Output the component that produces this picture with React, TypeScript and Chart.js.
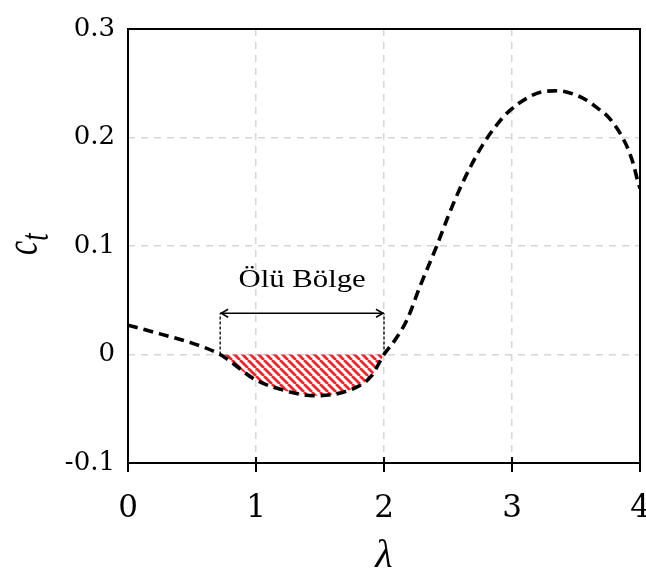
import React, { useEffect, useRef } from "react";
import { Chart, registerables } from "chart.js";

Chart.register(...registerables);

// ---- data ----
const lambdaValues = [
  0, 0.25, 0.5, 0.72, 1.0, 1.25, 1.45, 1.75, 1.9, 2.0, 2.09, 2.18, 2.28, 2.41, 2.51,
  2.6, 2.68, 2.77, 2.88, 2.98, 3.12, 3.24, 3.36, 3.48, 3.58, 3.67, 3.75, 3.82, 3.86,
  3.91, 3.95, 3.98, 4.0,
];
const ctValues = [
  0.027, 0.019, 0.0105, 0, -0.0235, -0.034, -0.038, -0.032, -0.02, 0, 0.014, 0.032,
  0.0625, 0.0994, 0.13, 0.1547, 0.174, 0.193, 0.2115, 0.2245, 0.2365, 0.2422,
  0.2431, 0.24, 0.2346, 0.2269, 0.2192, 0.2085, 0.2007, 0.1885, 0.1747, 0.1608, 0.153,
];
const xTickValues = [0, 1, 2, 3, 4];
const xTickLabels = ["0", "1", "2", "3", "4"];
const yTickValues = [-0.1, 0, 0.1, 0.2, 0.3];
const yTickLabels = ["-0.1", "0", "0.1", "0.2", "0.3"];
const deadZoneStart = 0.72;
const deadZoneEnd = 2;
const arrowLevel = 0.038;
const annotationText = "Ölü Bölge";
const xAxisTitle = "λ";
const yAxisTitleMain = "c";
const yAxisTitleSub = "t";

function makeHatch(): CanvasPattern | string {
  const s = 8;
  const c = document.createElement("canvas");
  c.width = s;
  c.height = s;
  const g = c.getContext("2d");
  if (!g) return "rgba(230,40,40,0.5)";
  g.strokeStyle = "#e8282c";
  g.lineWidth = 2.8;
  g.beginPath();
  for (const o of [-s, 0, s]) {
    g.moveTo(o, 0);
    g.lineTo(o + s, s);
  }
  g.stroke();
  return g.createPattern(c, "repeat") || "rgba(230,40,40,0.5)";
}

const decorPlugin = {
  id: "decor",
  afterDatasetsDraw(chart: any) {
    const { ctx, scales } = chart;
    const x = scales.x;
    const y = scales.y;
    const x1 = x.getPixelForValue(deadZoneStart);
    const x2 = x.getPixelForValue(deadZoneEnd);
    const y0 = y.getPixelForValue(0);
    const ya = y.getPixelForValue(arrowLevel);
    ctx.save();
    ctx.strokeStyle = "#000";
    ctx.lineWidth = 1.3;
    ctx.setLineDash([3, 2]);
    ctx.beginPath();
    ctx.moveTo(x1, y0);
    ctx.lineTo(x1, ya);
    ctx.moveTo(x2, y0);
    ctx.lineTo(x2, ya);
    ctx.stroke();
    ctx.setLineDash([]);
    ctx.lineWidth = 1.5;
    ctx.beginPath();
    ctx.moveTo(x1, ya);
    ctx.lineTo(x2, ya);
    ctx.stroke();
    const h = 8;
    const w = 4;
    ctx.beginPath();
    ctx.moveTo(x1 + h, ya - w);
    ctx.lineTo(x1 + 1, ya);
    ctx.lineTo(x1 + h, ya + w);
    ctx.moveTo(x2 - h, ya - w);
    ctx.lineTo(x2 - 1, ya);
    ctx.lineTo(x2 - h, ya + w);
    ctx.stroke();
    // annotation text (horizontally stretched serif)
    ctx.fillStyle = "#000";
    ctx.font = '25px "Liberation Serif"';
    ctx.textAlign = "center";
    ctx.textBaseline = "alphabetic";
    ctx.translate((x1 + x2) / 2, ya - 26);
    ctx.scale(1.23, 1);
    ctx.fillText(annotationText, 0, 0);
    ctx.restore();
  },
  afterDraw(chart: any) {
    const { ctx, chartArea: a, scales } = chart;
    const x = scales.x;
    ctx.save();
    ctx.strokeStyle = "#000";
    ctx.lineWidth = 2;
    ctx.setLineDash([]);
    ctx.strokeRect(a.left, a.top, a.right - a.left, a.bottom - a.top);
    // tick marks crossing the x axis
    ctx.beginPath();
    for (const v of xTickValues) {
      const px = x.getPixelForValue(v);
      ctx.moveTo(px, a.bottom - 6);
      ctx.lineTo(px, a.bottom + 9);
    }
    ctx.stroke();
    // x title
    ctx.fillStyle = "#000";
    ctx.font = 'italic 40px "Liberation Serif"';
    ctx.textAlign = "center";
    ctx.textBaseline = "alphabetic";
    ctx.fillText(xAxisTitle, (a.left + a.right) / 2, 567);
    // y title c_t rotated
    ctx.translate(37, 255);
    ctx.rotate(-Math.PI / 2);
    ctx.scale(1, 1.45);
    ctx.textAlign = "left";
    ctx.font = 'italic 32px "Liberation Serif"';
    ctx.fillText(yAxisTitleMain, 0, 0);
    const cw = ctx.measureText(yAxisTitleMain).width;
    ctx.font = 'italic 27px "Liberation Serif"';
    ctx.fillText(yAxisTitleSub, cw, 7.6);
    ctx.restore();
  },
};

export default function App() {
  const ref = useRef<HTMLCanvasElement | null>(null);

  useEffect(() => {
    const canvas = ref.current;
    if (!canvas) return;
    const mainData = lambdaValues.map((l, i) => ({ x: l, y: ctValues[i] }));
    const zoneData = mainData.filter(
      (p) => p.x >= deadZoneStart - 1e-9 && p.x <= deadZoneEnd + 1e-9
    );
    const chart = new Chart(canvas, {
      type: "line",
      data: {
        datasets: [
          {
            data: mainData,
            borderColor: "#000",
            borderWidth: 3.6,
            borderDash: [10, 6],
            cubicInterpolationMode: "monotone",
            pointRadius: 0,
            fill: false,
          },
          {
            data: zoneData,
            borderWidth: 0,
            borderColor: "rgba(0,0,0,0)",
            backgroundColor: makeHatch() as any,
            cubicInterpolationMode: "monotone",
            pointRadius: 0,
            fill: { value: 0 },
          },
        ],
      },
      options: {
        responsive: false,
        animation: false,
        devicePixelRatio: 1,
        layout: { padding: { top: 29, right: 6, left: 0, bottom: 0 } },
        plugins: {
          legend: { display: false },
          tooltip: { enabled: false },
        },
        scales: {
          x: {
            type: "linear",
            min: 0,
            max: 4,
            afterBuildTicks: (s: any) => {
              s.ticks = xTickValues.map((v) => ({ value: v }));
            },
            afterFit: (s: any) => {
              s.height = 111;
              s.paddingLeft = 0;
              s.paddingRight = 0;
            },
            ticks: {
              callback: (_v: any, i: number) => xTickLabels[i],
              font: { family: "DejaVu Serif", size: 31 },
              color: "#000",
              padding: 27,
              maxRotation: 0,
              autoSkip: false,
            },
            grid: { color: "#d6d6d6", lineWidth: 1.5, drawTicks: false },
            border: { display: false, dash: [7, 6] },
          },
          y: {
            type: "linear",
            min: -0.1,
            max: 0.3,
            afterBuildTicks: (s: any) => {
              s.ticks = yTickValues.map((v) => ({ value: v }));
            },
            afterFit: (s: any) => {
              s.width = 128;
              s.paddingTop = 0;
              s.paddingBottom = 0;
            },
            ticks: {
              callback: (_v: any, i: number) => yTickLabels[i],
              font: { family: "DejaVu Serif", size: 26 },
              color: "#000",
              padding: 13,
              autoSkip: false,
            },
            grid: { color: "#d6d6d6", lineWidth: 1.5, drawTicks: false },
            border: { display: false, dash: [7, 6] },
          },
        },
      } as any,
      plugins: [decorPlugin],
    });
    return () => chart.destroy();
  }, []);

  return (
    <div
      style={{
        position: "absolute",
        left: 0,
        top: 0,
        width: 646,
        height: 574,
        background: "#fff",
      }}
    >
      <canvas ref={ref} width={646} height={574} style={{ display: "block" }} />
    </div>
  );
}
